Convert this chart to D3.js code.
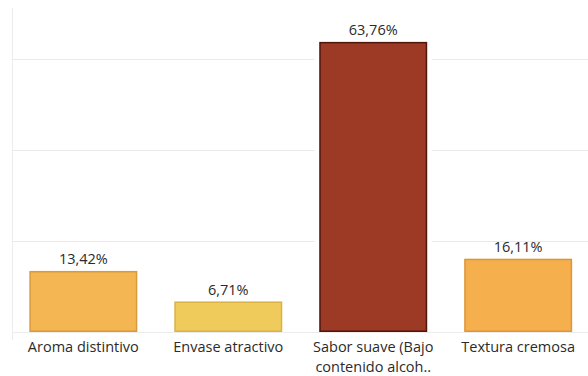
<!DOCTYPE html>
<html>
<head>
<meta charset="utf-8">
<script src="https://cdn.jsdelivr.net/npm/d3@7"></script>
<style>
  html, body { margin: 0; padding: 0; background: #fff; }
  svg { display: block; }
</style>
</head>
<body>
<svg id="chart" width="588" height="376"></svg>
<script>
// Share of respondents by preferred attribute
const categories = ["Aroma distintivo", "Envase atractivo", "Sabor suave (Bajo contenido alcohol)", "Textura cremosa"];
const labelLines = [["Aroma distintivo"], ["Envase atractivo"], ["Sabor suave (Bajo", "contenido alcoh.."], ["Textura cremosa"]];
const values = [13.42, 6.71, 63.76, 16.11];
const fills = ["#F4B553", "#EFCB5B", "#9C3A25", "#F5AF4D"];
const strokes = ["#D99A3C", "#D8B245", "#4E150B", "#DC963A"];
const gridTicks = [0, 20, 40, 60];

const svg = d3.select("#chart");
const plotLeft = 12, plotRight = 591, plotTop = 8, baseline = 332;

const x = d3.scaleBand().domain(categories).range([plotLeft - 1.5, plotRight]).paddingInner(0.255).paddingOuter(0.13);
const y = d3.scaleLinear().domain([0, 60]).range([baseline, baseline - 273]);

// Horizontal gridlines
svg.append("g").selectAll("line").data(gridTicks.filter(t => t > 0)).join("line")
  .attr("x1", plotLeft).attr("x2", 588)
  .attr("y1", d => Math.round(y(d)) + 0.5).attr("y2", d => Math.round(y(d)) + 0.5)
  .attr("stroke", "#e9e9e9").attr("stroke-width", 1);

// Zero line and vertical axis line
svg.append("line").attr("x1", plotLeft).attr("x2", 588)
  .attr("y1", baseline + 0.5).attr("y2", baseline + 0.5)
  .attr("stroke", "#ececec");
svg.append("line").attr("x1", plotLeft + 0.5).attr("x2", plotLeft + 0.5)
  .attr("y1", plotTop).attr("y2", baseline + 8)
  .attr("stroke", "#ececec");

// White halo behind each bar so gridlines break around it
svg.append("g").selectAll("rect").data(values).join("rect")
  .attr("x", (d, i) => x(categories[i]) - 5)
  .attr("y", d => y(d) - 1)
  .attr("width", x.bandwidth() + 10)
  .attr("height", d => baseline - y(d))
  .attr("fill", "#fff");

// Bars
svg.append("g").selectAll("rect").data(values).join("rect")
  .attr("x", (d, i) => x(categories[i]) + 0.75)
  .attr("y", d => y(d) + 0.75)
  .attr("width", x.bandwidth() - 1.5)
  .attr("height", d => baseline - y(d) - 1.5)
  .attr("fill", (d, i) => fills[i])
  .attr("stroke", (d, i) => strokes[i])
  .attr("stroke-width", 1.5);

const font = "'Open Sans', 'Noto Sans', sans-serif";

// Value labels
svg.append("g").selectAll("text").data(values).join("text")
  .attr("x", (d, i) => x(categories[i]) + x.bandwidth() / 2)
  .attr("y", d => y(d) - 6.5)
  .attr("text-anchor", "middle")
  .attr("font-family", font)
  .attr("font-size", 14.5)
  .attr("fill", "#2b2b2b")
  .text(d => d.toFixed(2).replace(".", ",") + "%");

// Category labels
const cat = svg.append("g").selectAll("text").data(categories).join("text")
  .attr("text-anchor", "middle")
  .attr("font-family", font)
  .attr("font-size", 14.5)
  .attr("fill", "#2b2b2b");
cat.each(function (c, i) {
  const t = d3.select(this);
  labelLines[i].forEach((line, j) => {
    t.append("tspan")
      .attr("x", x(c) + x.bandwidth() / 2)
      .attr("y", 352 + j * 20)
      .text(line);
  });
});
</script>
</body>
</html>
